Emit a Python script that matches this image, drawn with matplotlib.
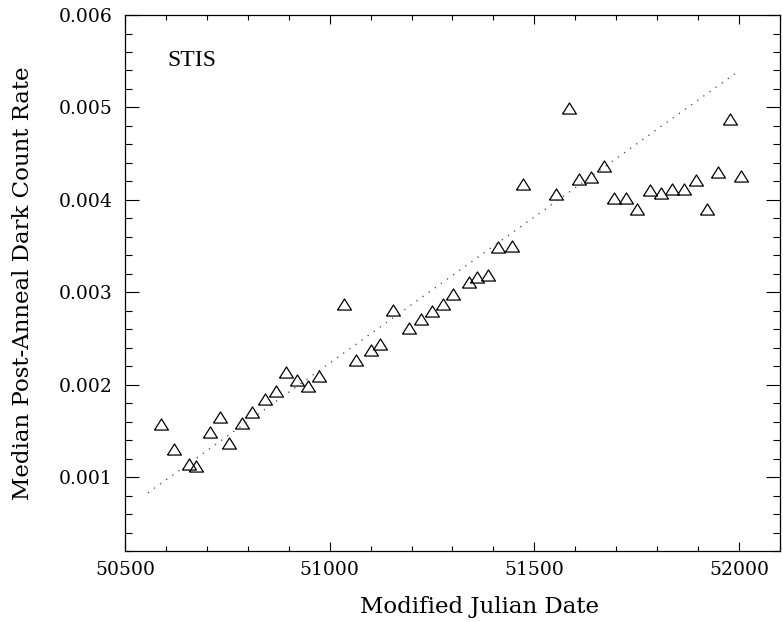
import matplotlib
matplotlib.use("Agg")
import matplotlib.pyplot as plt
from matplotlib.ticker import MultipleLocator, FormatStrFormatter

# median post-anneal dark count rate vs MJD
mjd = [50587, 50619, 50657, 50674, 50707, 50732, 50755, 50787, 50811, 50843,
       50868, 50893, 50921, 50948, 50975, 51034, 51065, 51100, 51122, 51154,
       51194, 51224, 51249, 51276, 51302, 51341, 51360, 51387, 51412, 51446,
       51473, 51554, 51585, 51610, 51639, 51669, 51695, 51723, 51752, 51782,
       51809, 51836, 51866, 51894, 51922, 51949, 51977, 52006]
rate = [0.00158, 0.00130, 0.00114, 0.00112, 0.00149, 0.00165, 0.00137, 0.00159, 0.00170, 0.00185,
        0.00193, 0.00214, 0.00205, 0.00199, 0.00209, 0.00287, 0.00227, 0.00238, 0.00244, 0.00281,
        0.00261, 0.00271, 0.00280, 0.00287, 0.00298, 0.00311, 0.00316, 0.00319, 0.00349, 0.00350,
        0.00417, 0.00406, 0.00499, 0.00423, 0.00425, 0.00437, 0.00402, 0.00402, 0.00390, 0.00411,
        0.00407, 0.00412, 0.00412, 0.00421, 0.00390, 0.00430, 0.00487, 0.00426]
# linear trend drawn as dotted line (endpoints)
fit_x = [50556, 51998]
fit_y = [0.00083, 0.00539]

plt.rcParams['font.family'] = 'DejaVu Serif'
fig = plt.figure(figsize=(7.83, 6.22), dpi=100)
ax = fig.add_axes([0.1596, 0.1141, 0.8365, 0.8617])

tri = [(-1, -0.8), (1, -0.8), (0, 0.8), (-1, -0.8)]
ax.plot(mjd, rate, linestyle='none', marker=tri, markersize=10,
        markerfacecolor='none', markeredgecolor='black', markeredgewidth=0.9)
ax.plot(fit_x, fit_y, color='0.25', linewidth=0.9, linestyle=(0, (1, 5)))

ax.set_xlim(50500, 52100)
ax.set_ylim(0.0002, 0.006)
ax.xaxis.set_major_locator(MultipleLocator(500))
ax.xaxis.set_minor_locator(MultipleLocator(100))
ax.yaxis.set_major_locator(MultipleLocator(0.001))
ax.yaxis.set_minor_locator(MultipleLocator(0.0002))
ax.yaxis.set_major_formatter(FormatStrFormatter('%.3f'))
ax.tick_params(axis='both', which='both', direction='in', top=True, right=True,
               labelsize=13.5, width=0.8)
ax.tick_params(axis='x', which='major', length=6.5, pad=7.5)
ax.tick_params(axis='x', which='minor', length=3.5)
ax.tick_params(axis='y', which='major', length=10, pad=9)
ax.tick_params(axis='y', which='minor', length=5)
for s in ax.spines.values():
    s.set_linewidth(0.9)

ax.set_xlabel('Modified Julian Date', fontsize=16.5)
ax.set_ylabel('Median Post-Anneal Dark Count Rate', fontsize=16.5)
ax.xaxis.set_label_coords(0.542, -0.083)
ax.yaxis.set_label_coords(-0.139, 0.5)
ax.text(0.064, 0.916, 'STIS', transform=ax.transAxes, fontsize=17,
        family='Liberation Serif', va='center', ha='left')

fig.savefig('out.png', dpi=100)
